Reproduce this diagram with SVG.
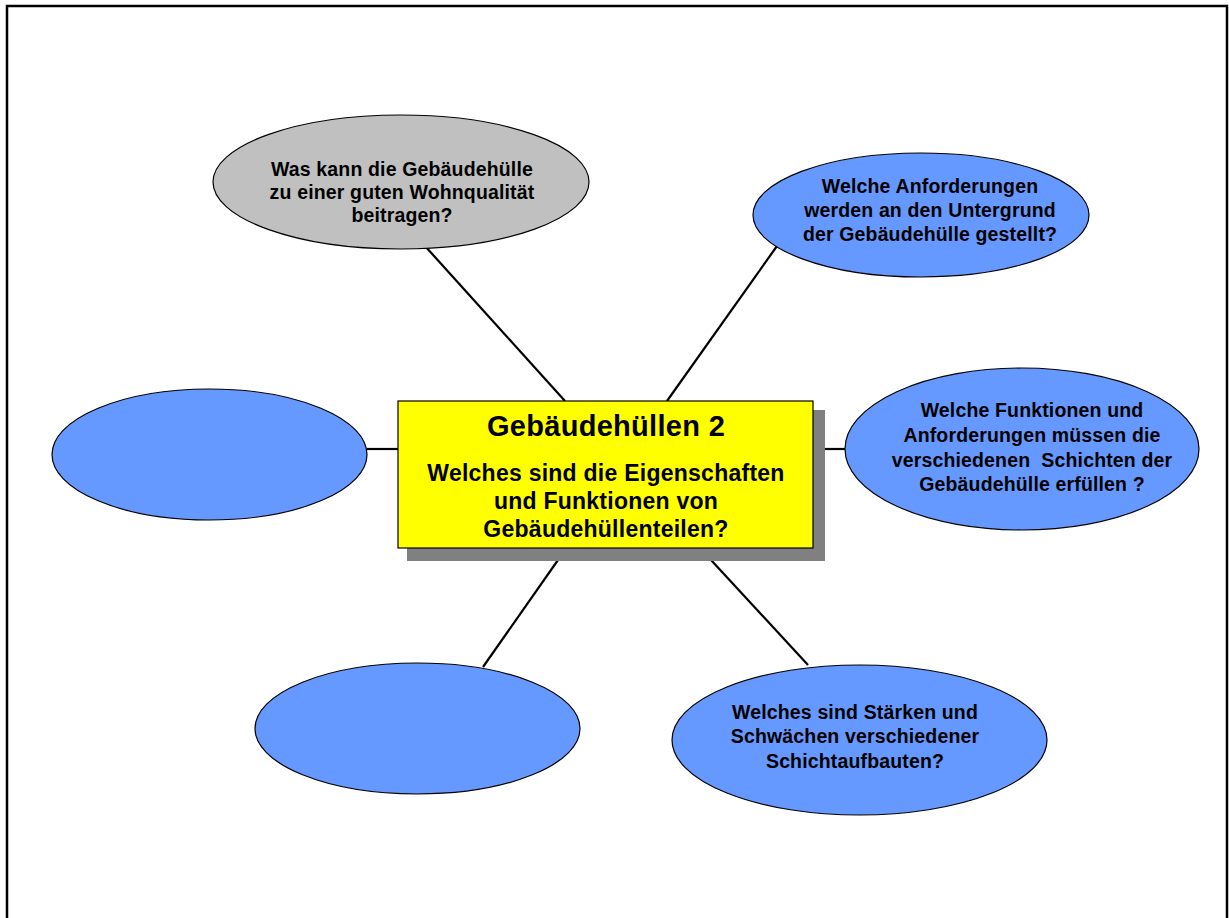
<svg xmlns="http://www.w3.org/2000/svg" width="1229" height="918" viewBox="0 0 1229 918">
<style>
.bg{fill:#ffffff}
.frame{fill:none;stroke:#000;stroke-width:2.5}
.conn line{stroke:#000;stroke-width:2.2}
.blue{fill:#6699FF;stroke:#000;stroke-width:1.2}
.gray{fill:#C0C0C0;stroke:#000;stroke-width:1.2}
.t{font-family:"Liberation Sans",Arial,sans-serif;font-weight:bold;font-size:19.5px;letter-spacing:0.15px;fill:#000;text-anchor:middle}
.title{font-size:29px;letter-spacing:0.3px}
.sub{font-size:23px;letter-spacing:0.25px}
</style>
<rect class="bg" x="0" y="0" width="1229" height="918"/>
<path class="frame" d="M7,918 V6 H1227 V918"/>
<g id="connectors" class="conn">
<line x1="425" y1="246" x2="565" y2="401"/>
<line x1="777" y1="246" x2="667" y2="401"/>
<line x1="367" y1="449" x2="398" y2="449"/>
<line x1="813" y1="449" x2="845" y2="449"/>
<line x1="558" y1="560" x2="483" y2="667"/>
<line x1="711" y1="560" x2="808" y2="665"/>
</g>
<g id="node-center">
<rect x="407" y="410" width="418" height="151" fill="#808080"/>
<rect x="398" y="401" width="415" height="147" fill="#FFFF00" stroke="#000" stroke-width="1.2"/>
<text class="t title" x="606" y="436">Gebäudehüllen 2</text>
<text class="t sub" x="606" y="481">Welches sind die Eigenschaften</text>
<text class="t sub" x="606" y="509">und Funktionen von</text>
<text class="t sub" x="606" y="537">Gebäudehüllenteilen?</text>
</g>
<g id="node-wohnqualitaet">
<ellipse class="gray" cx="401" cy="182" rx="188" ry="67"/>
<text class="t" x="402" y="176">Was kann die Gebäudehülle</text>
<text class="t" x="402" y="199">zu einer guten Wohnqualität</text>
<text class="t" x="402" y="222">beitragen?</text>
</g>
<g id="node-untergrund">
<ellipse class="blue" cx="921" cy="215" rx="168" ry="62"/>
<text class="t" x="930" y="193">Welche Anforderungen</text>
<text class="t" x="930" y="217">werden an den Untergrund</text>
<text class="t" x="930" y="241">der Gebäudehülle gestellt?</text>
</g>
<g id="node-schichten">
<ellipse class="blue" cx="1022" cy="449" rx="177" ry="81"/>
<text class="t" x="1032" y="417">Welche Funktionen und</text>
<text class="t" x="1032" y="442">Anforderungen müssen die</text>
<text class="t" x="1032" y="467" xml:space="preserve">verschiedenen  Schichten der</text>
<text class="t" x="1032" y="491">Gebäudehülle erfüllen ?</text>
</g>
<g id="node-left">
<ellipse class="blue" cx="209.5" cy="454.5" rx="157.5" ry="65.5"/>
</g>
<g id="node-bottom-left">
<ellipse class="blue" cx="417.5" cy="728.5" rx="162.5" ry="65.5"/>
</g>
<g id="node-schichtaufbauten">
<ellipse class="blue" cx="859.5" cy="740" rx="187.5" ry="75"/>
<text class="t" x="855" y="719">Welches sind Stärken und</text>
<text class="t" x="855" y="743">Schwächen verschiedener</text>
<text class="t" x="855" y="768">Schichtaufbauten?</text>
</g>
</svg>
